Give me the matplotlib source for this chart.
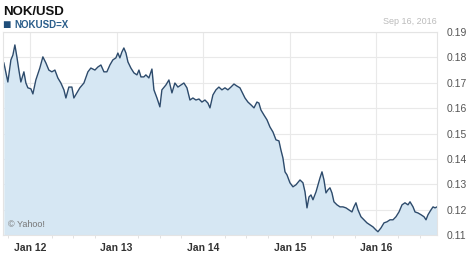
"""NOK/USD five-year chart, Yahoo Finance style."""

import matplotlib
matplotlib.use("Agg")
import matplotlib.pyplot as plt
from matplotlib.ticker import FixedLocator, MultipleLocator

# decimal years
years = [
    2011.700, 2011.746, 2011.781, 2011.804, 2011.827, 2011.850, 2011.873, 2011.896,
    2011.931, 2011.954, 2011.977, 2012.012, 2012.035, 2012.069, 2012.115, 2012.150,
    2012.185, 2012.219, 2012.254, 2012.289, 2012.323, 2012.358, 2012.393, 2012.416,
    2012.450, 2012.485, 2012.508, 2012.543, 2012.577, 2012.624, 2012.670, 2012.704,
    2012.751, 2012.785, 2012.820, 2012.855, 2012.889, 2012.924, 2012.958, 2012.993,
    2013.016, 2013.039, 2013.062, 2013.085, 2013.109, 2013.132, 2013.166, 2013.201,
    2013.236, 2013.259, 2013.282, 2013.316, 2013.339, 2013.374, 2013.409, 2013.432,
    2013.467, 2013.501, 2013.524, 2013.570, 2013.605, 2013.640, 2013.674, 2013.709,
    2013.744, 2013.778, 2013.813, 2013.848, 2013.882, 2013.917, 2013.952, 2013.986,
    2014.021, 2014.055, 2014.079, 2014.113, 2014.148, 2014.182, 2014.217, 2014.252,
    2014.286, 2014.321, 2014.356, 2014.390, 2014.425, 2014.448, 2014.483, 2014.517,
    2014.552, 2014.587, 2014.621, 2014.644, 2014.667, 2014.702, 2014.737, 2014.771,
    2014.806, 2014.841, 2014.875, 2014.898, 2014.921, 2014.945, 2014.968, 2015.002,
    2015.037, 2015.072, 2015.118, 2015.152, 2015.176, 2015.199, 2015.222, 2015.245,
    2015.268, 2015.303, 2015.326, 2015.349, 2015.372, 2015.395, 2015.418, 2015.441,
    2015.464, 2015.487, 2015.510, 2015.545, 2015.580, 2015.614, 2015.649, 2015.684,
    2015.718, 2015.741, 2015.764, 2015.788, 2015.822, 2015.857, 2015.891, 2015.926,
    2015.961, 2015.995, 2016.018, 2016.053, 2016.088, 2016.122, 2016.157, 2016.192,
    2016.226, 2016.261, 2016.296, 2016.330, 2016.365, 2016.388, 2016.423, 2016.446,
    2016.480, 2016.515, 2016.550, 2016.573, 2016.596, 2016.630, 2016.654, 2016.677,
    2016.700,
]
rates = [
    0.1778, 0.1703, 0.1790, 0.1809, 0.1849, 0.1802, 0.1750, 0.1703,
    0.1743, 0.1699, 0.1680, 0.1676, 0.1656, 0.1711, 0.1758, 0.1802,
    0.1778, 0.1750, 0.1743, 0.1750, 0.1719, 0.1699, 0.1672, 0.1640,
    0.1683, 0.1683, 0.1640, 0.1660, 0.1680, 0.1699, 0.1743, 0.1758,
    0.1750, 0.1762, 0.1770, 0.1743, 0.1743, 0.1770, 0.1790, 0.1798,
    0.1817, 0.1798, 0.1821, 0.1837, 0.1817, 0.1782, 0.1758, 0.1739,
    0.1731, 0.1750, 0.1723, 0.1723, 0.1731, 0.1719, 0.1754, 0.1672,
    0.1640, 0.1605, 0.1672, 0.1691, 0.1711, 0.1660, 0.1699, 0.1683,
    0.1691, 0.1699, 0.1680, 0.1632, 0.1640, 0.1632, 0.1636, 0.1624,
    0.1632, 0.1620, 0.1601, 0.1652, 0.1672, 0.1683, 0.1672, 0.1680,
    0.1672, 0.1683, 0.1695, 0.1687, 0.1680, 0.1664, 0.1640, 0.1624,
    0.1613, 0.1601, 0.1624, 0.1620, 0.1593, 0.1573, 0.1554, 0.1526,
    0.1506, 0.1475, 0.1471, 0.1435, 0.1404, 0.1349, 0.1337, 0.1306,
    0.1290, 0.1298, 0.1317, 0.1306, 0.1270, 0.1207, 0.1250, 0.1258,
    0.1239, 0.1270, 0.1298, 0.1325, 0.1349, 0.1317, 0.1266, 0.1278,
    0.1286, 0.1266, 0.1231, 0.1219, 0.1211, 0.1211, 0.1207, 0.1199,
    0.1191, 0.1211, 0.1227, 0.1199, 0.1172, 0.1160, 0.1148, 0.1140,
    0.1132, 0.1120, 0.1113, 0.1128, 0.1148, 0.1152, 0.1160, 0.1160,
    0.1172, 0.1191, 0.1219, 0.1227, 0.1219, 0.1231, 0.1211, 0.1191,
    0.1187, 0.1180, 0.1172, 0.1160, 0.1180, 0.1199, 0.1211, 0.1207,
    0.1211,
]
year_ticks = [2012, 2013, 2014, 2015, 2016]
year_labels = ["Jan 12", "Jan 13", "Jan 14", "Jan 15", "Jan 16"]
rate_ticks = [0.11, 0.12, 0.13, 0.14, 0.15, 0.16, 0.17, 0.18, 0.19]

plt.rcParams["font.family"] = ["Liberation Sans", "DejaVu Sans"]

fig = plt.figure(figsize=(4.74, 2.58), dpi=100)
ax = fig.add_axes([0.006, 0.089, 0.916, 0.787])

ax.fill_between(years, rates, 0.10, color="#d6e7f3", linewidth=0)
ax.plot(years, rates, color="#2d4b6c", linewidth=1.0)

ax.set_xlim(2011.688, 2016.70)
ax.set_ylim(0.11, 0.19)

ax.xaxis.set_major_locator(FixedLocator(year_ticks))
ax.set_xticklabels(year_labels)
ax.xaxis.set_minor_locator(MultipleLocator(0.25))
ax.yaxis.set_major_locator(FixedLocator(rate_ticks))
ax.set_yticklabels([f"{v:.2f}" for v in rate_ticks])
ax.yaxis.tick_right()

ax.tick_params(axis="x", which="major", length=0, pad=6, labelsize=7.5, labelcolor="#333333")
ax.tick_params(axis="x", which="minor", length=2, color="#dddddd")
ax.tick_params(axis="y", length=0, pad=7, labelsize=7.5, labelcolor="#555555")
for label in ax.get_xticklabels():
    label.set_fontweight("bold")

ax.grid(True, which="major", color="#e9e9e9", linewidth=0.8)
ax.set_axisbelow(True)
for side in ["left", "top", "right", "bottom"]:
    ax.spines[side].set_color("#e4e4e4")
    ax.spines[side].set_linewidth(0.8)

fig.text(0.006, 0.955, "NOK/USD", fontsize=9.5, fontweight="bold", color="#111111", va="center")
fig.text(0.004, 0.903, "\u25a0", fontsize=10, color="#1f4e7a", va="center")
fig.text(0.030, 0.905, "NOKUSD=X", fontsize=7, fontweight="bold", color="#2a5d8a", va="center")
fig.text(0.922, 0.915, "Sep 16, 2016", fontsize=6.5, color="#bbbbbb", ha="right", va="center")
ax.text(0.012, 0.05, "\u00a9 Yahoo!", transform=ax.transAxes, fontsize=6.5, color="#777777", va="center")

fig.savefig("out.png", dpi=100)
